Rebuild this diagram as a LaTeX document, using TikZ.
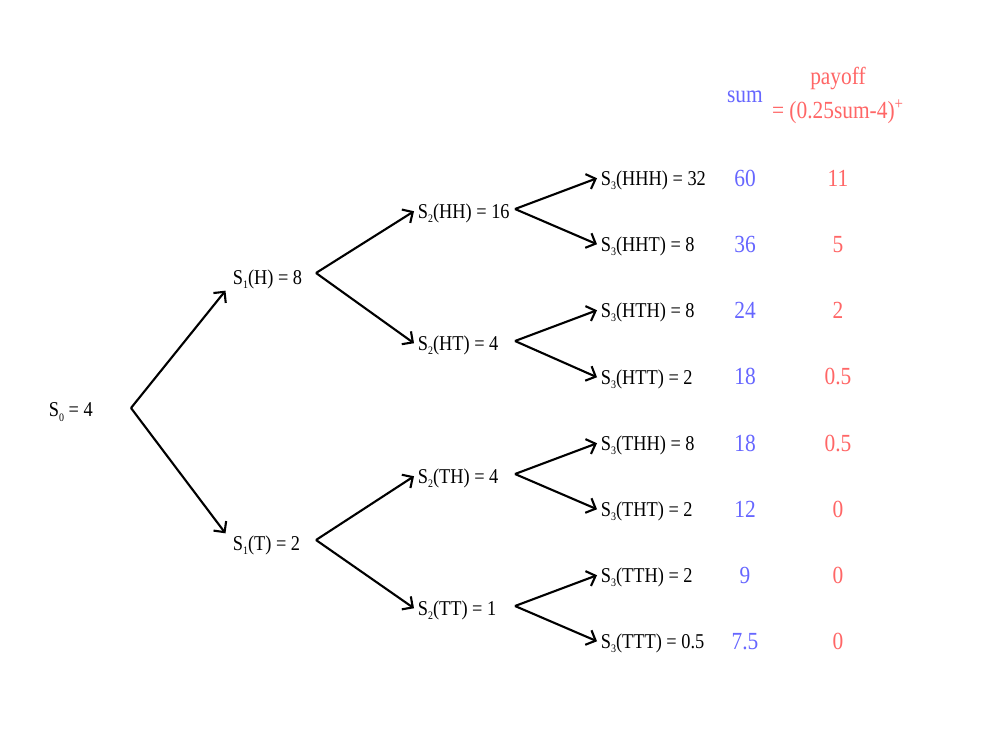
\documentclass[tikz,border=0pt]{standalone}
\usepackage{fontspec}
\setmainfont[FakeStretch=0.87]{Liberation Serif}
\usepackage{tikz}
\usetikzlibrary{arrows.meta}
\definecolor{sumblue}{RGB}{102,102,255}
\definecolor{payred}{RGB}{255,102,102}
\newcommand{\lowsub}[1]{\raisebox{-2.5pt}{\fontsize{6.5}{7}\selectfont #1}}
\begin{document}
\begin{tikzpicture}[x=0.02cm,y=-0.02cm,>={Straight Barb[length=4.5pt,width=9pt]},
  price/.style={anchor=west,inner sep=2pt,font=\fontsize{12}{14}\selectfont},
  branch/.style={->,line width=1.2pt},
  sumtxt/.style={text=sumblue,font=\fontsize{14}{16}\selectfont},
  paytxt/.style={text=payred,font=\fontsize{14}{16}\selectfont}]
\useasboundingbox (0,0) rectangle (1000,750);
% tree nodes
\node[price] (s0) at (45,412) {S\lowsub{0} = 4};
\node[price] (s1h) at (229,279) {S\lowsub{1}(H) = 8};
\node[price] (s1t) at (229,545) {S\lowsub{1}(T) = 2};
\node[price] (s2hh) at (414,213) {S\lowsub{2}(HH) = 16};
\node[price] (s2ht) at (414,345) {S\lowsub{2}(HT) = 4};
\node[price] (s2th) at (414,478) {S\lowsub{2}(TH) = 4};
\node[price] (s2tt) at (414,610) {S\lowsub{2}(TT) = 1};
\node[price] (s3hhh) at (597,180) {S\lowsub{3}(HHH) = 32};
\node[price] (s3hht) at (597,246) {S\lowsub{3}(HHT) = 8};
\node[price] (s3hth) at (597,312) {S\lowsub{3}(HTH) = 8};
\node[price] (s3htt) at (597,379) {S\lowsub{3}(HTT) = 2};
\node[price] (s3thh) at (597,445) {S\lowsub{3}(THH) = 8};
\node[price] (s3tht) at (597,511) {S\lowsub{3}(THT) = 2};
\node[price] (s3tth) at (597,577) {S\lowsub{3}(TTH) = 2};
\node[price] (s3ttt) at (597,643) {S\lowsub{3}(TTT) = 0.5};
% branch points
\coordinate (v0) at (131,408);
\coordinate (v1h) at (316,273);
\coordinate (v1t) at (316,540);
\coordinate (v2hh) at (515,209);
\coordinate (v2ht) at (515,341);
\coordinate (v2th) at (515,474);
\coordinate (v2tt) at (515,606);
\draw[branch] (v0) -- ([xshift=-2pt,yshift=1pt]s1h.south west);
\draw[branch] (v0) -- ([xshift=-2pt,yshift=-1pt]s1t.north west);
\draw[branch] (v1h) -- ([yshift=1pt]s2hh.west);
\draw[branch] (v1h) -- ([yshift=1pt]s2ht.west);
\draw[branch] (v1t) -- ([yshift=1pt]s2th.west);
\draw[branch] (v1t) -- ([yshift=1pt]s2tt.west);
\draw[branch] (v2hh) -- ([yshift=1pt]s3hhh.west);
\draw[branch] (v2hh) -- ([yshift=1pt]s3hht.west);
\draw[branch] (v2ht) -- ([yshift=1pt]s3hth.west);
\draw[branch] (v2ht) -- ([yshift=1pt]s3htt.west);
\draw[branch] (v2th) -- ([yshift=1pt]s3thh.west);
\draw[branch] (v2th) -- ([yshift=1pt]s3tht.west);
\draw[branch] (v2tt) -- ([yshift=1pt]s3tth.west);
\draw[branch] (v2tt) -- ([yshift=1pt]s3ttt.west);
% sum and payoff columns
\node[sumtxt] (sumhead) at (745,97) {sum};
\node[paytxt] (payhead) at (838,78) {payoff};
\node[paytxt] (payrule) at (838,112) {= (0.25sum-4)\textsuperscript{+}};
\foreach \s/\p [count=\i] in {60/11,36/5,24/2,18/0.5,18/0.5,12/0,9/0,7.5/0}{
\node[sumtxt] (sum\i) at (745,112+66.2*\i) {\s};
\node[paytxt] (pay\i) at (838,112+66.2*\i) {\p};}
\end{tikzpicture}
\end{document}
